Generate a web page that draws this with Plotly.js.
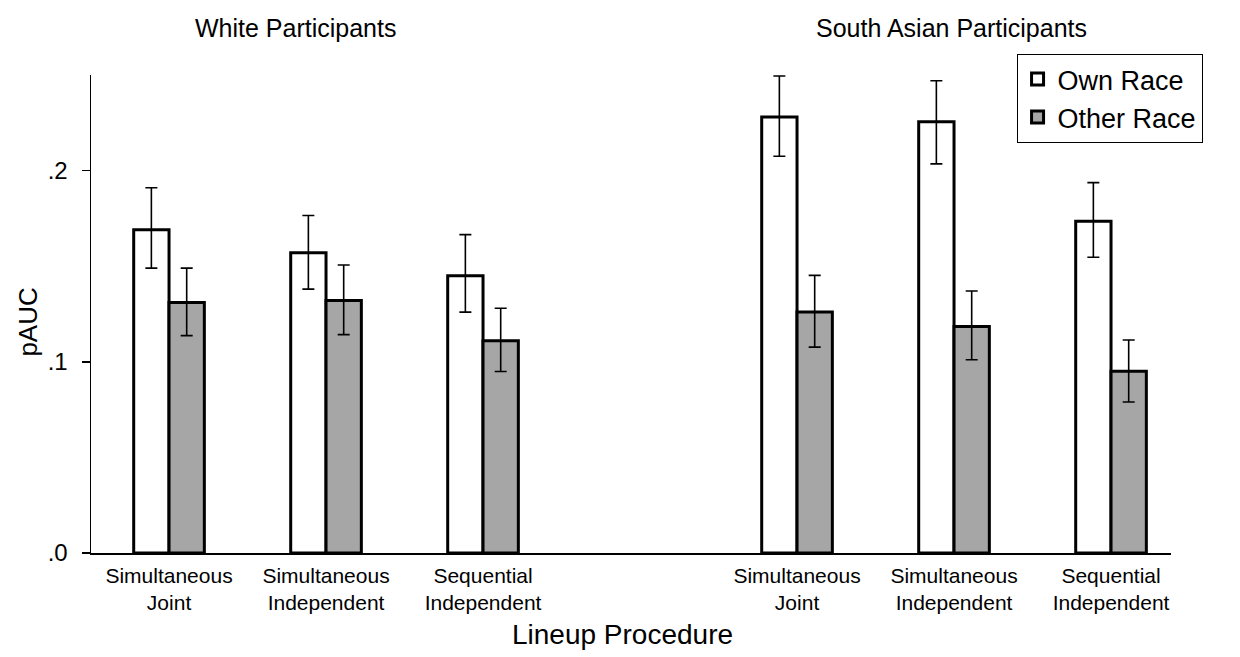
<!DOCTYPE html>
<html>
<head>
<meta charset="utf-8">
<script src="https://cdn.plot.ly/plotly-3.0.1.min.js"></script>
<style>html,body{margin:0;padding:0;background:#fff;}#chart{width:1240px;height:657px;}</style>
</head>
<body>
<div id="chart"></div>
<script>
// Category slots (slot 3 is the empty gap between the two participant groups)
var slots = [0, 1, 2, 4, 5, 6];
var categoryLabels = ["Simultaneous<br>Joint", "Simultaneous<br>Independent", "Sequential<br>Independent",
                      "Simultaneous<br>Joint", "Simultaneous<br>Independent", "Sequential<br>Independent"];
var groupTitles = ["White Participants", "South Asian Participants"];
var xTitle = "Lineup Procedure";
var yTitle = "pAUC";

// pAUC values
var ownRace   = [0.169, 0.157, 0.145, 0.228, 0.2255, 0.1735];
var otherRace = [0.131, 0.132, 0.111, 0.126, 0.1185, 0.095];
// error bar upper / lower bounds
var ownUpper   = [0.191, 0.1765, 0.1665, 0.2495, 0.247, 0.1937];
var ownLower   = [0.149, 0.138, 0.126, 0.2075, 0.2035, 0.1547];
var otherUpper = [0.149, 0.1506, 0.128, 0.1452, 0.137, 0.1114];
var otherLower = [0.1137, 0.1142, 0.0949, 0.1077, 0.1011, 0.079];

var yTickVals = [0, 0.1, 0.2];
var yTickText = [".0", ".1", ".2"];

function diff(a, b) { return a.map(function (v, i) { return +(v - b[i]).toFixed(4); }); }

var FONT = "Liberation Sans, Arial, Helvetica, sans-serif";

var traces = [
  {
    type: "bar", name: "Own Race", x: slots, y: ownRace, legendgroup: "own",
    marker: { color: "#ffffff", line: { color: "#000000", width: 3 } },
    error_y: { type: "data", symmetric: false, array: diff(ownUpper, ownRace), arrayminus: diff(ownRace, ownLower),
               color: "#000000", thickness: 1.6, width: 6 }
  },
  {
    type: "bar", name: "Other Race", x: slots, y: otherRace, legendgroup: "other",
    marker: { color: "#a6a6a6", line: { color: "#000000", width: 3 } },
    error_y: { type: "data", symmetric: false, array: diff(otherUpper, otherRace), arrayminus: diff(otherRace, otherLower),
               color: "#000000", thickness: 1.6, width: 6 }
  }
];

var layout = {
  width: 1240, height: 657,
  paper_bgcolor: "#ffffff", plot_bgcolor: "#ffffff",
  margin: { l: 91, r: 69, t: 75, b: 104, pad: 0 },
  barmode: "group", bargap: 0.55, bargroupgap: 0,
  font: { family: FONT, color: "#000000" },
  showlegend: true,
  legend: {
    x: 0.857, y: 1.044, xanchor: "left", yanchor: "top",
    bordercolor: "#000000", borderwidth: 1, bgcolor: "#ffffff",
    font: { family: FONT, size: 27, color: "#000000" },
    tracegroupgap: 0, itemwidth: 30
  },
  xaxis: {
    range: [-0.497, 6.382],
    tickmode: "array", tickvals: slots, ticktext: categoryLabels,
    tickfont: { family: FONT, size: 21 },
    ticks: "", ticklabelstandoff: 3, showgrid: false, zeroline: false,
    showline: true, linecolor: "#000000", linewidth: 1.5,
    fixedrange: true
  },
  yaxis: {
    range: [0, 0.25],
    tickmode: "array", tickvals: yTickVals, ticktext: yTickText,
    tickfont: { family: FONT, size: 24 },
    ticks: "outside", ticklen: 8, tickwidth: 1.5, tickcolor: "#000000",
    ticklabelstandoff: 9,
    showgrid: false, zeroline: false,
    showline: true, linecolor: "#000000", linewidth: 1.5,
    fixedrange: true
  },
  annotations: [
    { text: groupTitles[0], xref: "paper", yref: "paper", x: 0.189, y: 1.098, xanchor: "center", yanchor: "middle",
      showarrow: false, font: { family: FONT, size: 25, color: "#000000" } },
    { text: groupTitles[1], xref: "paper", yref: "paper", x: 0.797, y: 1.098, xanchor: "center", yanchor: "middle",
      showarrow: false, font: { family: FONT, size: 25, color: "#000000" } },
    { text: xTitle, xref: "paper", yref: "paper", x: 0.4917, y: -0.1715, xanchor: "center", yanchor: "middle",
      showarrow: false, font: { family: FONT, size: 28, color: "#000000" } },
    { text: yTitle, xref: "paper", yref: "paper", x: -0.0579, y: 0.483, xanchor: "center", yanchor: "middle",
      textangle: -90, showarrow: false, font: { family: FONT, size: 26, color: "#000000" } }
  ]
};

Plotly.newPlot("chart", traces, layout, { displayModeBar: false, staticPlot: true });
</script>
</body>
</html>
